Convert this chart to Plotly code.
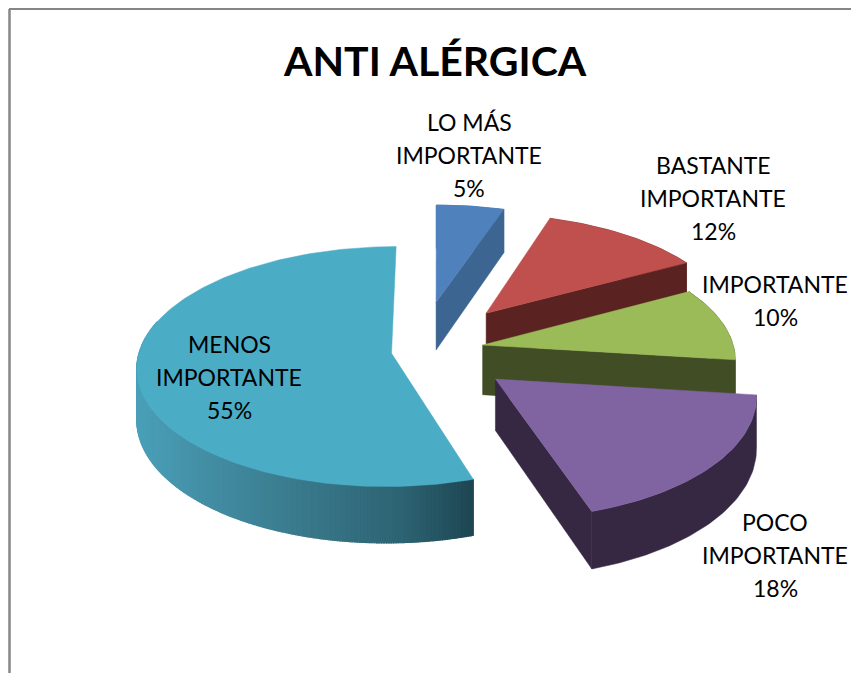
import numpy as np
import plotly.graph_objects as go

# ---------- data ----------
LABELS = [["LO MÁS", "IMPORTANTE"], ["BASTANTE", "IMPORTANTE"], ["IMPORTANTE"], ["POCO", "IMPORTANTE"], ["MENOS", "IMPORTANTE"]]
VALUES = [5, 12, 10, 18, 55]
TITLE = "ANTI ALÉRGICA"

# ---------- styles ----------
TOP_COLORS = ["#4F81BD", "#C0504D", "#9BBB59", "#8064A2", "#4BACC6"]
WALL_COLORS = ["#3D6591", "#5A2321", "#414D24", "#362742", "#2F6E80"]
CYAN_WALL_STOPS = [(140, (74, 160, 184)), (200, (68, 144, 166)), (300, (58, 122, 140)), (400, (46, 100, 116)), (472, (31, 71, 83))]
# slice explosion in disc units (sideways, towards viewer)
PULL_U = [-0.008, 0.198, 0.178, 0.222, -0.184]
PULL_V = [-0.432, -0.332, -0.051, 0.232, 0.020]
# centre x and first-line centre y of each label
LABEL_XY = [(469, 122), (713, 165), (775, 284), (775, 522), (229, 344)]
LINE_STEP = 33
CX, CY, RX, RY, K, DEPTH = 438, 351, 252, 118, 0.11, 50
FONT = "Lato, Carlito, Calibri, sans-serif"


def project(u, v, drop=0.0):
    s = 1 / (1 - K * v)
    return CX + RX * u * s, CY + RY * v * s + drop * DEPTH * s


def poly(fig, xs, ys, color, width=0.5):
    fig.add_trace(go.Scatter(x=xs, y=ys, mode="lines", fill="toself", fillcolor=color,
                             line=dict(color=color, width=width), hoverinfo="skip", showlegend=False))


def wall_color_at(x):
    xp = [p[0] for p in CYAN_WALL_STOPS]
    return "rgb(%d,%d,%d)" % tuple(np.interp(x, xp, [p[1][c] for p in CYAN_WALL_STOPS]) for c in range(3))


fig = go.Figure()
total = sum(VALUES)
edges = np.cumsum([0] + VALUES) / total * 2 * np.pi
for i in range(len(VALUES)):
    a0, a1 = edges[i], edges[i + 1]
    n = max(8, int(VALUES[i] * 3))
    th = np.linspace(a0, a1, n)
    au, av = np.sin(th) + PULL_U[i], -np.cos(th) + PULL_V[i]
    tx, ty = project(au, av)
    bx, by = project(au, av, 1)
    ax, ay = project(np.array([PULL_U[i]]), np.array([PULL_V[i]]))
    ax2, ay2 = project(np.array([PULL_U[i]]), np.array([PULL_V[i]]), 1)
    # curved wall (the large slice is shaded strip by strip)
    if i == len(VALUES) - 1:
        th_w = np.linspace(a0, a1, 400)
        wu, wv = np.sin(th_w) + PULL_U[i], -np.cos(th_w) + PULL_V[i]
        wtx, wty = project(wu, wv)
        wbx, wby = project(wu, wv, 1)
        # only the front half of the rim is visible
        for j in range(len(th_w) - 1):
            if wv[j] < -0.25:
                continue
            poly(fig, [wtx[j], wtx[j + 1], wbx[j + 1], wbx[j], wtx[j]],
                 [wty[j], wty[j + 1], wby[j + 1], wby[j], wty[j]],
                 wall_color_at((wtx[j] + wtx[j + 1]) / 2), width=1.2)
    else:
        # radial wall at the clockwise end of the slice
        poly(fig, [ax[0], tx[-1], bx[-1], ax2[0], ax[0]], [ay[0], ty[-1], by[-1], ay2[0], ay[0]], WALL_COLORS[i])
        poly(fig, np.r_[tx, bx[::-1], tx[0]], np.r_[ty, by[::-1], ty[0]], WALL_COLORS[i])
    # top face
    poly(fig, np.r_[ax, tx, ax], np.r_[ay, ty, ay], TOP_COLORS[i])

for lab, val, (lx, ly) in zip(LABELS, VALUES, LABEL_XY):
    for k, line in enumerate(lab + [f"{val}%"]):
        fig.add_annotation(x=lx, y=ly + k * LINE_STEP, xref="x", yref="y", text=line, showarrow=False,
                           font=dict(family=FONT, size=23, color="#000000"), align="center")

fig.add_annotation(x=435, y=60, xref="x", yref="y", text=f"<b>{TITLE}</b>", showarrow=False,
                   font=dict(family=FONT, size=41, color="#000000"))

fig.update_layout(
    width=851, height=673, margin=dict(l=0, r=0, t=0, b=0),
    paper_bgcolor="white", plot_bgcolor="white", showlegend=False,
    xaxis=dict(range=[0, 851], visible=False, fixedrange=True),
    yaxis=dict(range=[673, 0], visible=False, fixedrange=True),
    shapes=[
        dict(type="line", xref="x", yref="y", x0=9.5, x1=9.5, y0=9, y1=673, line=dict(color="#868686", width=2.5)),
        dict(type="line", xref="x", yref="y", x0=9, x1=851, y0=9, y1=9, line=dict(color="#868686", width=2)),
    ],
)
fig.write_html("out.html", config={"displayModeBar": False},
               post_script="document.body.style.margin='0';document.documentElement.style.overflow='hidden';")
